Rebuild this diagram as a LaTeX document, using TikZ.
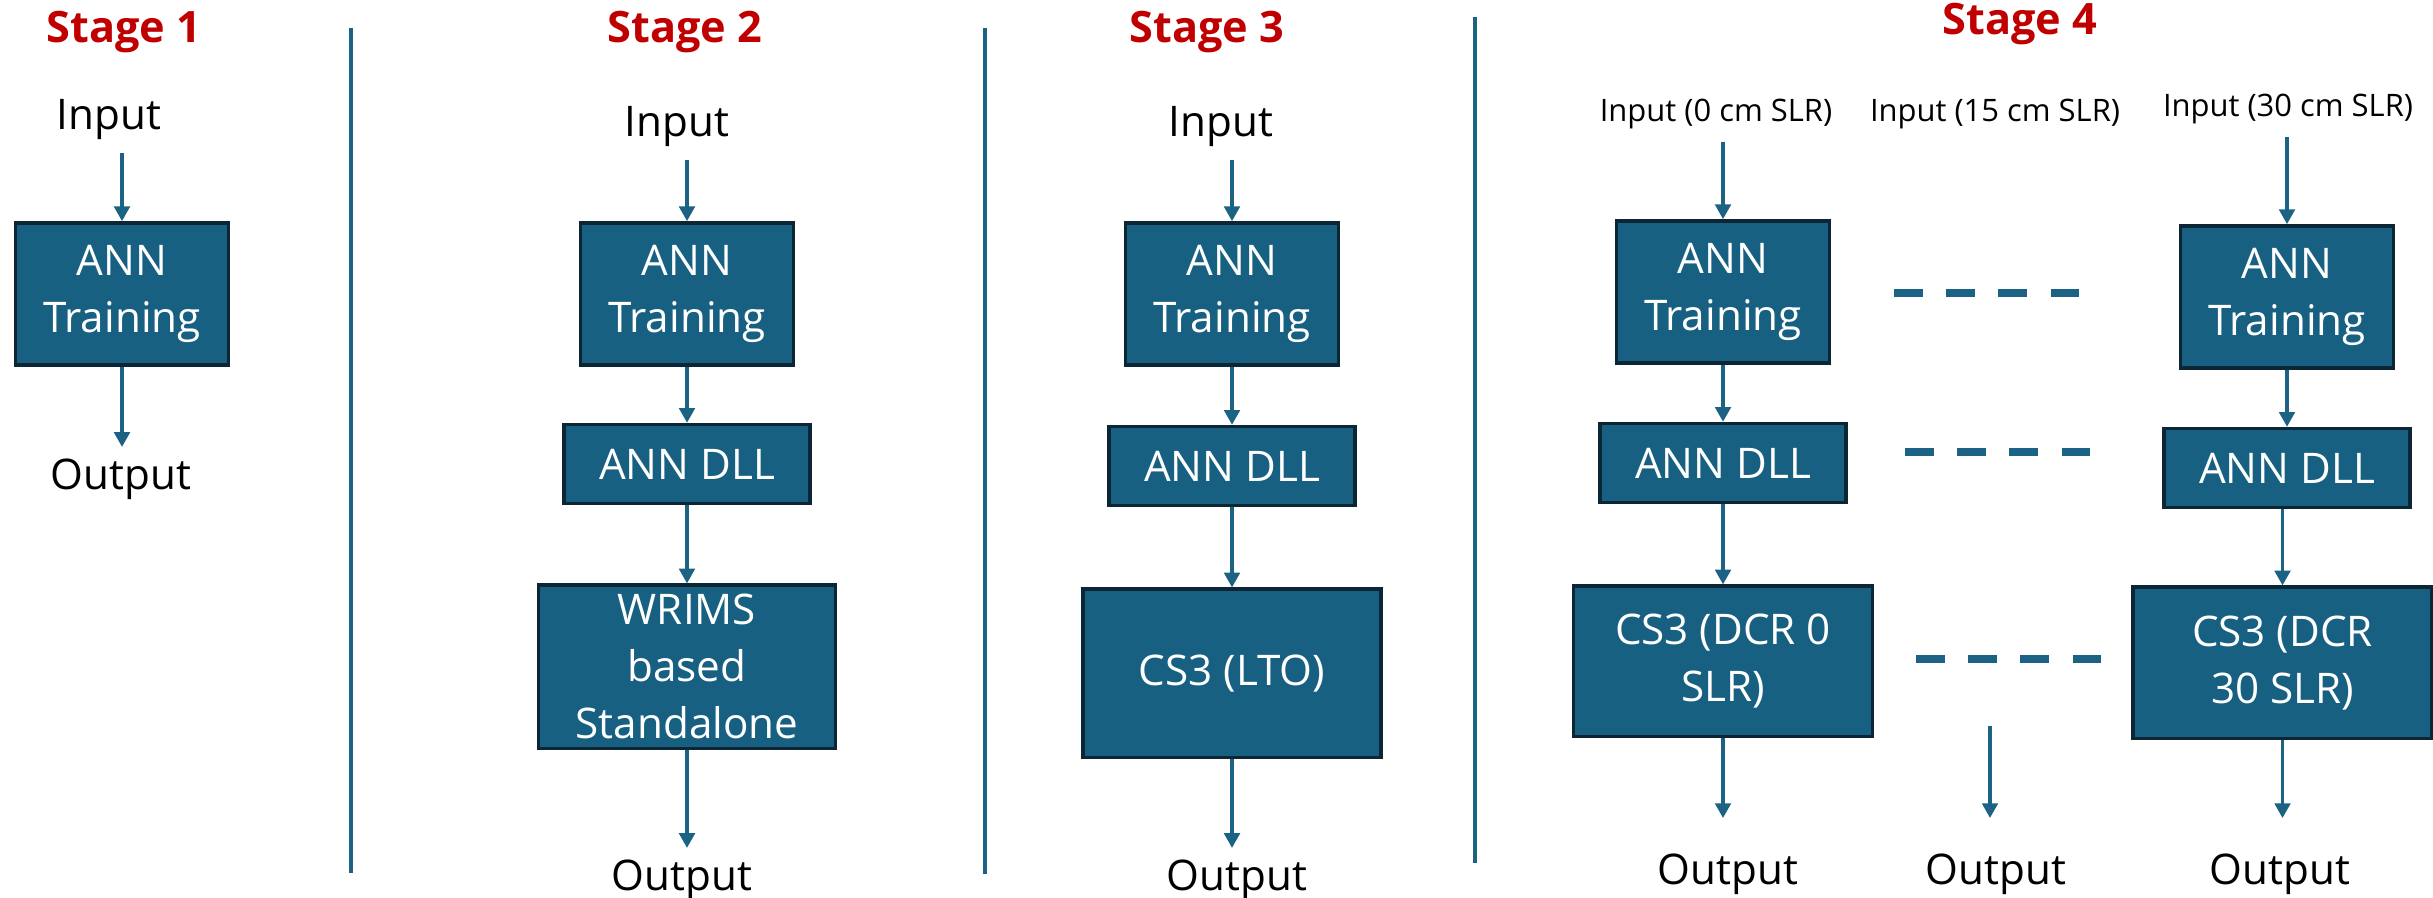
\documentclass[tikz,border=0pt]{standalone}
\usepackage{fontspec}
\setmainfont{Open Sans}
\usetikzlibrary{positioning, arrows.meta}

\definecolor{boxfill}{RGB}{23,96,130}
\definecolor{boxedge}{RGB}{12,38,54}
\definecolor{flowblue}{RGB}{27,98,132}
\definecolor{stagered}{RGB}{192,0,0}

\tikzset{
    proc/.style={draw=boxedge, fill=boxfill, line width=1pt, text=white,
        align=center, inner sep=0pt, anchor=center},
    trainbox/.style={proc, minimum width=2.13cm, minimum height=1.42cm},
    dllbox/.style={proc, minimum width=2.46cm, minimum height=0.79cm},
}

\begin{document}
\begin{tikzpicture}[
    x=0.01cm, y=-0.01cm,
    every node/.style={anchor=base, font=\fontsize{12}{16.2}\selectfont},
    stagehead/.style={text=stagered, font=\fontsize{12.3}{14}\selectfont\bfseries},
    smallin/.style={font=\fontsize{8.8}{10}\selectfont},
    flow/.style={draw=flowblue, line width=1pt, -{Triangle[width=4.4pt, length=4.2pt]}},
    divider/.style={draw=flowblue, line width=1.1pt},
    etcline/.style={draw=flowblue, line width=2.2pt, dash pattern=on 8.25pt off 6.6pt},
]
  \useasboundingbox (0,0) rectangle (2433,898);

  % Stage 1
  \node[stagehead] (h1) at (124,43) {Stage 1};
  \node (in1) at (109,130) {Input};
  \node[trainbox] (t1) at (122,294) {ANN\\Training};
  \node (out1) at (121,490) {Output};
  \draw[flow] (t1.north |- in1.south) -- (t1);
  \draw[flow] (t1) -- (t1.south |- out1.north);

  \draw[divider] (351,28) -- (351,873);

  % Stage 2
  \node[stagehead] (h2) at (685,43) {Stage 2};
  \node (in2) at (677,137) {Input};
  \node[trainbox] (t2) at (687,294) {ANN\\Training};
  \node[dllbox, below=0.56cm of t2] (d2) {ANN DLL};
  \node[proc, minimum width=2.97cm, minimum height=1.63cm, below=0.78cm of d2] (w2) {WRIMS\\based\\Standalone};
  \node (out2) at (682,891) {Output};
  \draw[flow] (t2.north |- in2.south) -- (t2);
  \draw[flow] (t2) -- (d2);
  \draw[flow] (d2) -- (w2);
  \draw[flow] (w2) -- (w2.south |- out2.north);

  \draw[divider] (985,28) -- (985,874);

  % Stage 3
  \node[stagehead] (h3) at (1207,43) {Stage 3};
  \node (in3) at (1221,137) {Input};
  \node[trainbox] (t3) at (1232,294) {ANN\\Training};
  \node[dllbox, below=0.58cm of t3] (d3) {ANN DLL};
  \node[proc, minimum width=2.98cm, minimum height=1.68cm, below=0.80cm of d3] (c3) {CS3 (LTO)};
  \node (out3) at (1237,891) {Output};
  \draw[flow] (t3.north |- in3.south) -- (t3);
  \draw[flow] (t3) -- (d3);
  \draw[flow] (d3) -- (c3);
  \draw[flow] (c3) -- (c3.south |- out3.north);

  \draw[divider] (1475,17) -- (1475,863);

  % Stage 4
  \node[stagehead] (h4) at (2020,35) {Stage 4};
  \node[smallin] (in4a) at (1716,122) {Input (0 cm SLR)};
  \node[smallin] (in4b) at (1995,122) {Input (15 cm SLR)};
  \node[smallin] (in4c) at (2288,117) {Input (30 cm SLR)};

  \node[trainbox] (t4a) at (1723,292) {ANN\\Training};
  \node[dllbox, below=0.57cm of t4a] (d4a) {ANN DLL};
  \node[proc, minimum width=2.99cm, minimum height=1.50cm, below=0.80cm of d4a] (c4a) {CS3 (DCR 0\\SLR)};

  \node[trainbox] (t4c) at (2287,297) {ANN\\Training};
  \node[dllbox, below=0.57cm of t4c] (d4c) {ANN DLL};
  \node[proc, minimum width=2.99cm, minimum height=1.51cm, below=0.76cm of d4c, xshift=-0.045cm] (c4c) {CS3 (DCR\\30 SLR)};

  \node (out4a) at (1728,885) {Output};
  \node (out4b) at (1996,885) {Output};
  \node (out4c) at (2280,885) {Output};
  \coordinate (m4) at (1990,726);

  \draw[flow] (t4a.north |- in4a.south) -- (t4a);
  \draw[flow] (t4a) -- (d4a);
  \draw[flow] (d4a) -- (c4a);
  \draw[flow, shorten >=6.8pt] (c4a) -- (c4a.south |- out4a.north);
  \draw[flow, shorten >=6.8pt] (m4) -- (m4 |- out4b.north);
  \draw[flow] (t4c.north |- in4c.south) -- (t4c);
  \draw[flow] (t4c) -- (d4c);
  \draw[flow] (d4c.south -| c4c.north) -- (c4c);
  \draw[flow, shorten >=6.8pt] (c4c) -- (c4c.south |- out4c.north);

  % dashed gaps between the SLR columns
  \draw[etcline] (1894,293) -- (2079,293);
  \draw[etcline] (1905,452) -- (2090,452);
  \draw[etcline] (1916,659) -- (2101,659);
\end{tikzpicture}
\end{document}
